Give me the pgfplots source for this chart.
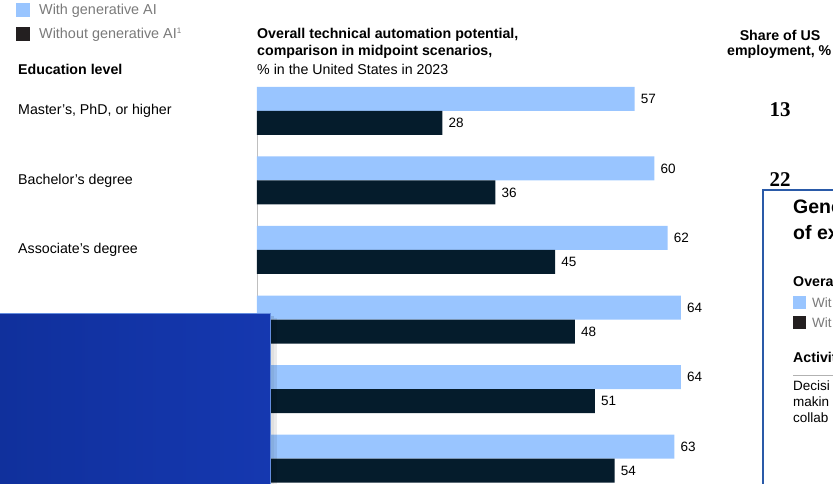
\documentclass[border=0pt]{standalone}
\usepackage{fontspec}
\setmainfont{Liberation Sans}
\newfontfamily\numfont{Liberation Serif}
\usepackage{pgfplots}
\pgfplotsset{compat=1.18}

\definecolor{withai}{HTML}{99C5FF}
\definecolor{withoutai}{HTML}{051C2C}
\definecolor{legdark}{HTML}{231F20}
\definecolor{greytext}{HTML}{7A7A7A}
\definecolor{boxblue}{HTML}{2A5AA8}
\definecolor{coverblue}{HTML}{1538B0}
\definecolor{coverdark}{HTML}{10309C}

\begin{document}
\begin{tikzpicture}
\useasboundingbox (0pt,0pt) rectangle (833pt,-483pt);
\clip (0pt,0pt) rectangle (833pt,-483pt);

\begin{axis}[
    at={(257pt,-87pt)}, anchor=north west,
    scale only axis,
    width=530pt, height=413.2pt,
    xmin=0, xmax=80,
    ymin=0.655, ymax=6.6,
    y dir=reverse,
    xbar=0pt,
    bar width=24pt,
    axis x line=none,
    axis y line*=left,
    y axis line style={draw=gray!50, line width=0.8pt, -},
    ytick={1,2,3,4,5,6},
    % the lower three category names are hidden by the panel in the reference
    yticklabels={{Master's, PhD, or higher}, {Bachelor's degree}, {Associate's degree},
        {}, {}, {}},
    major tick length=0pt,
    yticklabel style={anchor=west, inner sep=0pt, xshift=-239pt,
        font=\fontsize{14.2}{17}\selectfont},
    nodes near coords,
    nodes near coords style={anchor=west, inner sep=0pt, xshift=6pt,
        font=\fontsize{13.5}{16}\selectfont, text=black,
        /pgf/number format/assume math mode=true},
    clip=false,
    legend style={at={(axis description cs:0,1)}, anchor=north west,
        xshift=-241pt, yshift=85pt, draw=none, fill=none, inner sep=0pt,
        row sep=8pt, font=\fontsize{14.4}{14}\selectfont, text=greytext,
        cells={anchor=west}},
    legend image code/.code={\fill[#1, draw=none] (0pt,-7pt) rectangle (14pt,7pt);
        \path[draw=none, fill=none] (0pt,0pt) -- (21pt,0pt);},
]
\addplot[fill=withai, draw=none, bar shift=12pt, forget plot] coordinates {
    (57,1) (60,2) (62,3) (64,4) (64,5) (63,6)
};
\addplot[fill=withoutai, draw=none, bar shift=-12pt, forget plot] coordinates {
    (28,1) (36,2) (45,3) (48,4) (51,5) (54,6)
};
\addlegendimage{fill=withai, draw=none}
\addlegendentry{With generative AI}
\addlegendimage{fill=legdark, draw=none}
\addlegendentry{Without generative AI\textsuperscript{\fontsize{8}{8}\selectfont 1}}
\end{axis}

\begin{scope}[x=1pt, y=-1pt, every node/.style={inner sep=0pt}]
\node[anchor=west, font=\fontsize{14.2}{16}\bfseries] at (18,69) {Education level};
\node[anchor=west, font=\fontsize{14.2}{16}\bfseries] at (257,35) {Overall technical automation potential,};
\node[anchor=west, font=\fontsize{14.2}{16}\bfseries] at (257,52) {comparison in midpoint scenarios,};
\node[anchor=west, font=\fontsize{14.2}{16}\selectfont] at (257,69) {\% in the United States in 2023};
\node[font=\fontsize{14.2}{16}\bfseries] at (780,35) {Share of US};
\node[anchor=west, font=\fontsize{14.2}{16}\bfseries] at (727,52) {employment, \%};
\node[font=\numfont\fontsize{21}{24}\bfseries] at (780,110) {13};
\node[font=\numfont\fontsize{21}{24}\bfseries] at (780,180) {22};

% inset panel on the right
\fill[white] (763,190) rectangle (840,490);
\draw[boxblue, line width=2pt] (763,490) -- (763,190) -- (840,190);
\node[anchor=base west, font=\fontsize{19.5}{22}\bfseries] at (793,213) {Gene};
\node[anchor=base west, font=\fontsize{19.5}{22}\bfseries] at (793,239) {of ex};
\node[anchor=west, font=\fontsize{14.2}{16}\bfseries] at (793,282) {Overa};
\fill[withai] (793,296) rectangle (806,309);
\node[anchor=west, font=\fontsize{13.5}{16}\selectfont, text=greytext] at (812,302.5) {Wit};
\fill[legdark] (793,316) rectangle (806,329);
\node[anchor=west, font=\fontsize{13.5}{16}\selectfont, text=greytext] at (812,322.5) {Wit};
\node[anchor=west, font=\fontsize{14.2}{16}\bfseries] at (793,357) {Activit};
\draw[gray!60, line width=0.8pt] (793,375) -- (840,375);
\node[anchor=west, font=\fontsize{13.5}{16}\selectfont] at (793,386) {Decisi};
\node[anchor=west, font=\fontsize{13.5}{16}\selectfont] at (793,402) {makin};
\node[anchor=west, font=\fontsize{13.5}{16}\selectfont] at (793,418) {collab};

% blue cover panel bottom left
\fill[black, opacity=0.12] (270,316) rectangle (274,490);
\fill[black, opacity=0.08] (274,318) rectangle (277,490);
\shade[left color=coverdark, right color=coverblue] (0,313) rectangle (270.5,490);
\draw[withai!60!coverblue, line width=0.8pt] (0,313) -- (270.5,313) -- (270.5,490);
\end{scope}
\end{tikzpicture}
\end{document}
